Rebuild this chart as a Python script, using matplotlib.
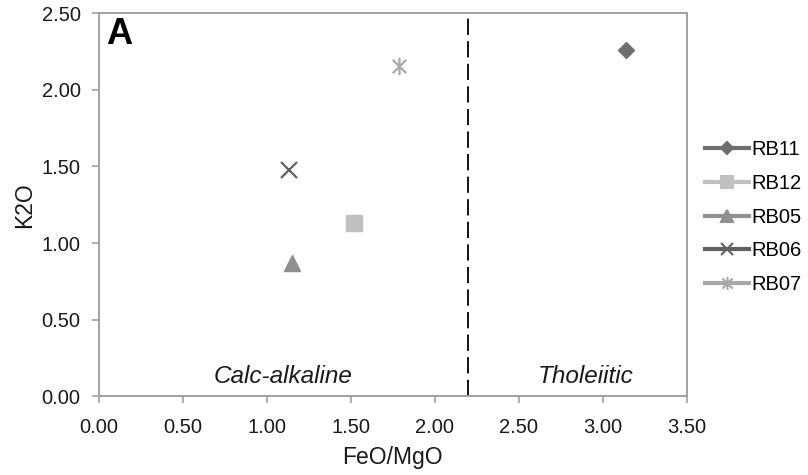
import matplotlib
matplotlib.use("Agg")
import matplotlib.pyplot as plt
from matplotlib.path import Path
from matplotlib.lines import Line2D

plt.rcParams['font.family'] = ['Liberation Sans', 'DejaVu Sans']

# datos
samples = ['RB11', 'RB12', 'RB05', 'RB06', 'RB07']
feo_mgo = [3.14, 1.52, 1.15, 1.13, 1.79]
k2o = [2.26, 1.13, 0.87, 1.48, 2.16]
colors = ['#6e6e6e', '#c0c0c0', '#8f8f8f', '#606060', '#a8a8a8']

x_ticks = [0.0, 0.5, 1.0, 1.5, 2.0, 2.5, 3.0, 3.5]
y_ticks = [0.0, 0.5, 1.0, 1.5, 2.0, 2.5]
limite = 2.2

# asterisco estilo Excel (x con linea vertical)
star = Path([(-1, -1), (1, 1), (-1, 1), (1, -1), (0, -1.3), (0, 1.3)],
            [Path.MOVETO, Path.LINETO, Path.MOVETO, Path.LINETO, Path.MOVETO, Path.LINETO])

markers = ['D', 's', '^', 'x', star]
msizes = [8.5, 11.5, 12, 11, 12.5]
filled = [True, True, True, False, False]

fig = plt.figure(figsize=(8.08, 4.75), dpi=100)
ax = fig.add_axes([0.1222, 0.1663, 0.7277, 0.8053])

handles = []
for i in range(len(samples)):
    if filled[i]:
        ax.plot(feo_mgo[i], k2o[i], linestyle='none', marker=markers[i], ms=msizes[i],
                color=colors[i], mec=colors[i])
    else:
        ax.plot(feo_mgo[i], k2o[i], linestyle='none', marker=markers[i], ms=msizes[i],
                color=colors[i], mew=1.6)
    handles.append(Line2D([], [], color=colors[i], lw=3, marker=markers[i],
                          ms=msizes[i] * 0.75, mew=1.5, mec=colors[i], mfc=colors[i]))

ax.axvline(limite, color='black', lw=1.3, dashes=(9, 3.5))

ax.set_xlim(0, 3.5)
ax.set_ylim(0, 2.5)
ax.set_xticks(x_ticks)
ax.set_yticks(y_ticks)
ax.set_xticklabels([f'{v:.2f}' for v in x_ticks])
ax.set_yticklabels([f'{v:.2f}' for v in y_ticks])
ax.tick_params(labelsize=14.5, color='#a0a0a0', length=5, width=1.2, labelcolor='#1a1a1a')
ax.tick_params(axis='y', pad=8)
ax.tick_params(axis='x', pad=11)
for s in ax.spines.values():
    s.set_color('#a0a0a0')
    s.set_linewidth(1.4)

ax.set_xlabel('FeO/MgO', fontsize=16.5, labelpad=6, color='#1a1a1a')
ax.set_ylabel('K2O', fontsize=16.5, labelpad=4, color='#1a1a1a')

ax.text(0.045, 2.36, 'A', fontsize=26, fontweight='bold', va='center', ha='left')
ax.text(1.10, 0.125, 'Calc-alkaline', fontsize=17.5, style='italic', ha='center', va='center',
        color='#1a1a1a')
ax.text(2.90, 0.125, 'Tholeiitic', fontsize=17.5, style='italic', ha='center', va='center',
        color='#1a1a1a')

fig.legend(handles, samples, loc='center left', bbox_to_anchor=(0.872, 0.543),
           frameon=False, fontsize=14.5, handlelength=2.2, handletextpad=0.1,
           labelspacing=0.74, borderpad=0, borderaxespad=0)

fig.savefig('out.png', dpi=100)
